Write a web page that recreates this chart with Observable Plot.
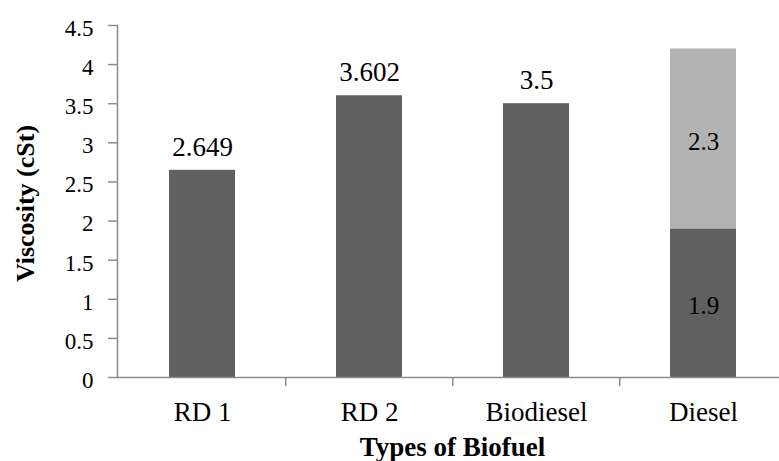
<!DOCTYPE html>
<html>
<head>
<meta charset="utf-8">
<script src="https://cdn.jsdelivr.net/npm/d3@7"></script>
<script src="https://cdn.jsdelivr.net/npm/@observablehq/plot@0.6"></script>
<style>
  html, body { margin: 0; padding: 0; background: #fff; overflow: hidden; }
  #chart svg { display: block; font-family: "Liberation Serif", serif !important; }
  #chart svg text { font-family: "Liberation Serif", serif !important; }
</style>
</head>
<body>
<div id="chart"></div>
<script>
const categories = ["RD 1", "RD 2", "Biodiesel", "Diesel"];
const lowerValues = [2.649, 3.602, 3.5, 1.9];
const upperValues = [0, 0, 0, 2.3];
const topLabels = ["2.649", "3.602", "3.5", ""];
const innerLowerLabels = ["", "", "", "1.9"];
const innerUpperLabels = ["", "", "", "2.3"];
const yTicks = [0, 0.5, 1, 1.5, 2, 2.5, 3, 3.5, 4, 4.5];
const yTitle = "Viscosity (cSt)";
const xTitle = "Types of Biofuel";

const rows = [];
categories.forEach((c, i) => {
  rows.push({cat: c, part: "lower", value: lowerValues[i], label: innerLowerLabels[i]});
  rows.push({cat: c, part: "upper", value: upperValues[i], label: innerUpperLabels[i]});
});
const tops = categories.map((c, i) => ({cat: c, value: lowerValues[i] + upperValues[i], label: topLabels[i]}));

const W = 779, H = 461;
const mL = 117, mR = -8, mT = 25, mB = 84;
const step = (W - mR - mL) / categories.length;
const axisColor = "#8c8c8c";
const font = "Liberation Serif";

const chart = Plot.plot({
  width: W, height: H,
  marginLeft: mL, marginRight: mR, marginTop: mT, marginBottom: mB,
  x: {domain: categories, paddingInner: 0.606, paddingOuter: 0.303, axis: null},
  y: {domain: [0, 4.5], axis: null},
  color: {domain: ["lower", "upper"], range: ["#606060", "#b3b3b3"]},
  style: {fontFamily: font, background: "#fff", color: "#000"},
  marks: [
    Plot.barY(rows, {x: "cat", y: "value", fill: "part"}),
    Plot.text(rows.filter(d => d.label), Plot.stackY({x: "cat", y: "value", text: "label", fontFamily: font, fontSize: 25, dy: 3, fill: "#000"})),
    Plot.text(tops.filter(d => d.label), {x: "cat", y: "value", text: "label", fontFamily: font, fontSize: 27, dy: -23, fill: "#000"}),
    Plot.ruleY([0], {stroke: axisColor, strokeWidth: 1.5}),
    Plot.frame({anchor: "left", stroke: axisColor, strokeWidth: 1.5}),
    Plot.axisY(yTicks, {anchor: "left", tickSize: 9, tickFormat: () => "", label: null, stroke: axisColor, strokeWidth: 1.5}),
    Plot.axisY(yTicks, {anchor: "left", tickSize: 0, tickPadding: 24, tickFormat: d => String(d), label: null, fontFamily: font, fontSize: 23, dy: 3}),
    Plot.axisX(categories.slice(1), {anchor: "bottom", tickSize: 9, tickFormat: () => "", label: null, dx: -step / 2, stroke: axisColor, strokeWidth: 1.5}),
    Plot.axisX({anchor: "bottom", tickSize: 0, tickPadding: 24, label: null, fontFamily: font, fontSize: 27}),
    Plot.text([yTitle], {frameAnchor: "left", text: d => d, rotate: -90, dx: -92, dy: 2, textAnchor: "middle", lineAnchor: "middle", fontFamily: font, fontSize: 26, fontWeight: "bold", fill: "#000"}),
    Plot.text([xTitle], {frameAnchor: "bottom", text: d => d, dy: 70, textAnchor: "middle", lineAnchor: "middle", fontFamily: font, fontSize: 27, fontWeight: "bold", fill: "#000"})
  ]
});
document.getElementById("chart").appendChild(chart);
</script>
</body>
</html>
